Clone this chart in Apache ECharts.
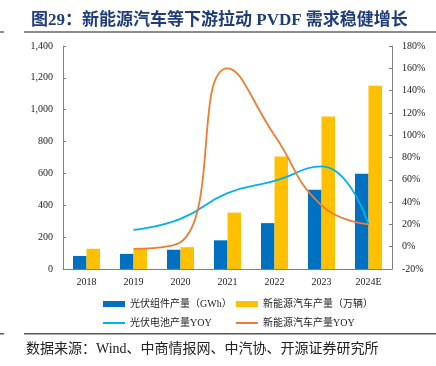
<!DOCTYPE html>
<html><head><meta charset="utf-8">
<script src="https://cdn.jsdelivr.net/npm/echarts@6/dist/echarts.min.js"></script>
<style>html,body{margin:0;padding:0;background:#fff}#c{width:436px;height:366px}</style>
</head><body><div id="c"></div>
<script>
const categories = ['2018','2019','2020','2021','2022','2023','2024E'];
const pvModule = [82, 95, 121, 180, 288, 498, 598];
const nevOutput = [127, 124, 137, 354, 706, 958, 1150];
const pvCellYoy = [null, 15, 25, 48, 59, 72, 20];
const nevYoy = [null, -2, 4, 160, 100, 37, 20];
const leftTicks = [0, 200, 400, 600, 800, 1000, 1200, 1400];
const rightTicks = [-20, 0, 20, 40, 60, 80, 100, 120, 140, 160, 180];

const serif = '"Liberation Serif","Times New Roman","Noto Sans CJK SC",serif';
const legText = {fontFamily: serif, fontSize: 10, color: '#222'};
function leg(name, left, top, isBar) {
  return {left: left, top: top, itemWidth: 22, itemHeight: isBar ? 6 : 2, icon: 'rect',
          textStyle: legText, data: [name]};
}
const chart = echarts.init(document.getElementById('c'));
chart.setOption({
  animation: false,
  title: {
    text: '图29：新能源汽车等下游拉动 PVDF 需求稳健增长',
    left: 26, top: 7,
    textStyle: {fontFamily: serif, fontSize: 17, fontWeight: 'bold', color: '#1F3D7A'}
  },
  graphic: [
    {type: 'rect', shape: {x: 24, y: 31, width: 412, height: 2}, style: {fill: '#8c8c8c'}},
    {type: 'rect', shape: {x: 0, y: 31, width: 4, height: 2}, style: {fill: '#8c8c8c'}},
    {type: 'rect', shape: {x: 24, y: 333, width: 412, height: 1.5}, style: {fill: '#595959'}},
    {type: 'rect', shape: {x: 0, y: 333, width: 4, height: 1.5}, style: {fill: '#595959'}},
    {type: 'text', left: 26, top: 342, style: {text: '数据来源：Wind、中商情报网、中汽协、开源证券研究所', font: '14px ' + serif, fill: '#222'}}
  ],
  legend: [
    leg('光伏组件产量（GWh）', 98, 294, true),
    leg('新能源汽车产量（万辆）', 231, 294, true),
    leg('光伏电池产量YOY', 98, 313, false),
    leg('新能源汽车产量YOY', 231, 313, false)
  ],
  grid: {left: 63, right: 44, top: 46, bottom: 97},
  xAxis: {
    type: 'category', data: categories,
    axisLine: {lineStyle: {color: '#7f7f7f'}},
    axisTick: {inside: true, length: 3, lineStyle: {color: '#7f7f7f'}},
    axisLabel: {fontFamily: serif, fontSize: 10, color: '#222', margin: 8}
  },
  yAxis: [
    {type: 'value', min: leftTicks[0], max: leftTicks[leftTicks.length-1], interval: 200,
     axisLine: {show: true, lineStyle: {color: '#7f7f7f'}},
     axisTick: {show: true, inside: true, length: 3, lineStyle: {color: '#7f7f7f'}},
     splitLine: {show: false},
     axisLabel: {fontFamily: serif, fontSize: 10, color: '#222', margin: 10,
       formatter: v => v.toLocaleString('en-US')}},
    {type: 'value', min: rightTicks[0], max: rightTicks[rightTicks.length-1], interval: 20,
     axisLine: {show: true, lineStyle: {color: '#7f7f7f'}},
     axisTick: {show: true, inside: true, length: 3, lineStyle: {color: '#7f7f7f'}},
     splitLine: {show: false},
     axisLabel: {fontFamily: serif, fontSize: 10, color: '#222', margin: 10, formatter: '{value}%'}}
  ],
  series: [
    {name: '光伏组件产量（GWh）', type: 'bar', data: pvModule, barWidth: 13.5, barGap: '0%',
     itemStyle: {color: '#0070C0'}},
    {name: '新能源汽车产量（万辆）', type: 'bar', data: nevOutput, barWidth: 13.5, barGap: '0%',
     itemStyle: {color: '#FFC000'}},
    {name: '光伏电池产量YOY', type: 'line', yAxisIndex: 1, data: pvCellYoy, smooth: 0.5,
     showSymbol: false, symbol: 'none', lineStyle: {color: '#00B0F0', width: 1.8}, itemStyle: {color: '#00B0F0'}},
    {name: '新能源汽车产量YOY', type: 'line', yAxisIndex: 1, data: nevYoy, smooth: 0.5,
     showSymbol: false, symbol: 'none', lineStyle: {color: '#ED7D31', width: 1.8}, itemStyle: {color: '#ED7D31'}}
  ]
});
</script></body></html>
